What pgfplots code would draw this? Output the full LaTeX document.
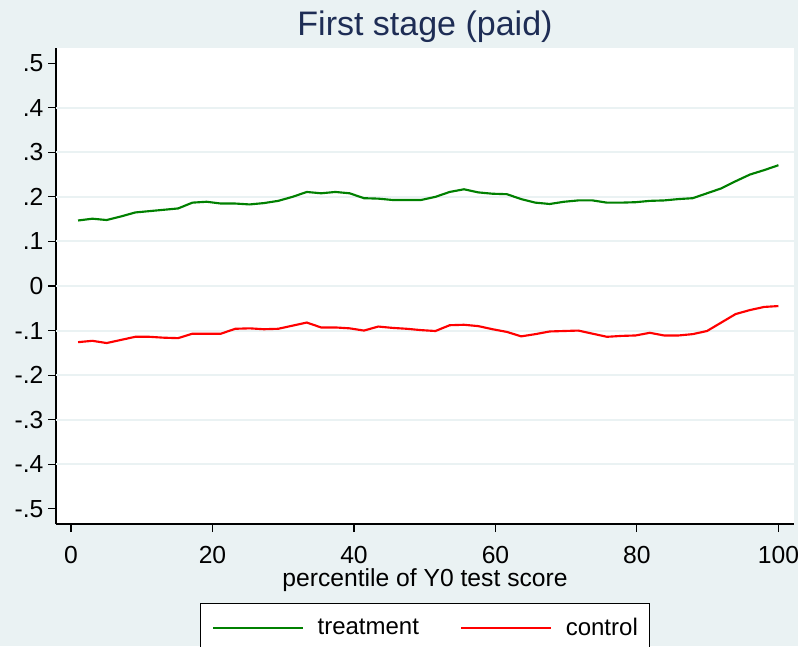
\documentclass[border=0pt]{standalone}
\usepackage{fontspec}
\setmainfont{Liberation Sans}
\usepackage{pgfplots}
\usepackage{pgfplotstable}
\pgfplotsset{compat=1.18}
\definecolor{stbg}{RGB}{234,242,243}
\definecolor{stgreen}{RGB}{0,128,0}
\definecolor{stred}{RGB}{255,0,0}
\definecolor{sttitle}{RGB}{30,45,85}

\pgfplotstableread{
x treat control
1 0.147 -0.126
3.02 0.151 -0.123
5.04 0.148 -0.128
7.06 0.156 -0.121
9.08 0.165 -0.114
11.10 0.168 -0.114
13.12 0.171 -0.116
15.14 0.174 -0.117
17.16 0.187 -0.107
19.18 0.189 -0.107
21.20 0.185 -0.107
23.22 0.185 -0.096
25.24 0.183 -0.095
27.27 0.186 -0.097
29.29 0.191 -0.096
31.31 0.200 -0.089
33.33 0.211 -0.082
35.35 0.208 -0.093
37.37 0.211 -0.093
39.39 0.208 -0.095
41.41 0.197 -0.100
43.43 0.196 -0.091
45.45 0.193 -0.094
47.47 0.193 -0.096
49.49 0.193 -0.099
51.51 0.200 -0.101
53.53 0.211 -0.088
55.55 0.217 -0.087
57.57 0.210 -0.090
59.59 0.207 -0.097
61.61 0.206 -0.103
63.63 0.195 -0.113
65.65 0.187 -0.108
67.67 0.184 -0.102
69.69 0.189 -0.101
71.71 0.192 -0.100
73.73 0.192 -0.107
75.76 0.187 -0.114
77.78 0.187 -0.112
79.80 0.188 -0.111
81.82 0.191 -0.105
83.84 0.192 -0.111
85.86 0.195 -0.111
87.88 0.197 -0.108
89.90 0.208 -0.101
91.92 0.219 -0.082
93.94 0.235 -0.063
95.96 0.250 -0.054
97.98 0.260 -0.047
100 0.271 -0.045
}\datatable

\begin{document}
\begin{tikzpicture}
\fill[stbg] (-42pt,-91.5pt) rectangle (556.5pt,393pt);
\useasboundingbox (-42pt,-91.5pt) rectangle (556.5pt,393pt);
\begin{axis}[
  at={(0pt,0pt)}, anchor=south west,
  scale only axis, width=553.5pt, height=357pt,
  xmin=-2.12, xmax=102.2, ymin=-0.534, ymax=0.534,
  axis lines*=left,
  axis line style={-, line width=0.9pt, black},
  axis background/.style={fill=white},
  xtick={0,20,40,60,80,100},
  xticklabels={0,20,40,60,80,100},
  ytick={-0.5,-0.4,-0.3,-0.2,-0.1,0,0.1,0.2,0.3,0.4,0.5},
  yticklabels={-.5,-.4,-.3,-.2,-.1,0,.1,.2,.3,.4,.5},
  extra y ticks={-0.4,-0.3,-0.2,-0.1,0,0.1,0.2,0.3,0.4},
  extra y tick labels={},
  extra y tick style={grid=major, major tick length=0pt},
  major grid style={stbg, line width=1.5pt},
  tick align=outside, major tick length=6pt,
  tick style={black, line width=0.8pt},
  ticklabel style={font=\fontsize{18.5}{20}\selectfont},
  /pgf/number format/assume math mode=true,
  yticklabel style={anchor=east, inner sep=0pt, xshift=-3.25pt},
  xticklabel style={anchor=base, inner sep=0pt, yshift=-23.25pt},
  title={First stage (paid)},
  every axis title/.style={at={(axis description cs:0.5,1)}, anchor=base, yshift=9pt, font=\fontsize{25.5}{28}\selectfont, text=sttitle},
  xlabel={percentile of Y0 test score},
  every axis x label/.style={at={(axis description cs:0.5,0)}, anchor=base, yshift=-46.5pt, font=\fontsize{18.5}{20}\selectfont},
  legend columns=2,
  legend style={at={(axis description cs:0.5,0)}, anchor=north, yshift=-59.25pt,
    draw=black, line width=0.6pt, fill=white, font=\fontsize{18}{20}\selectfont,
    inner xsep=8.5pt, inner ysep=11pt,
    nodes={inner sep=0pt},
    column sep=10pt,
    /tikz/every even column/.append style={column sep=31pt}},
  legend image code/.code={\draw[#1] (0pt,0pt) -- (67.5pt,0pt);},
]
\addplot[stgreen, line width=1.6pt] table[x=x, y=treat] {\datatable};
\addlegendentry{treatment}
\addplot[stred, line width=1.6pt] table[x=x, y=control] {\datatable};
\addlegendentry{control}
\end{axis}
\end{tikzpicture}
\end{document}
